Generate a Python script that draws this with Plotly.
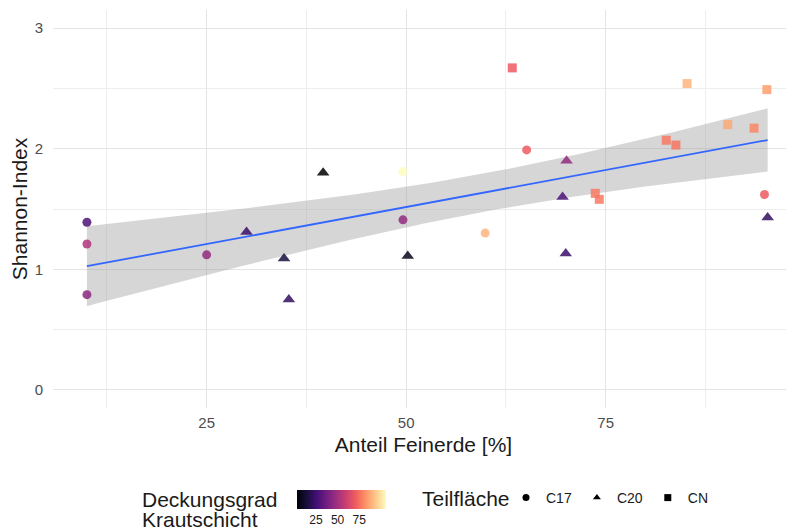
import numpy as np
import plotly.graph_objects as go

# ---- data -------------------------------------------------------------
c17_x = [10.0, 10.0, 10.0, 25.0, 49.6, 49.6, 59.9, 65.1, 94.9]
c17_y = [1.39, 1.21, 0.79, 1.12, 1.41, 1.81, 1.30, 1.99, 1.62]
c17_c = [28, 53, 44, 46, 46, 106, 90, 70, 70]

c20_x = [30.0, 34.7, 35.3, 39.6, 50.2, 69.6, 70.1, 70.0, 95.3]
c20_y = [1.31, 1.09, 0.75, 1.80, 1.11, 1.60, 1.90, 1.13, 1.43]
c20_c = [23, 15, 21, 3, 8, 28, 46, 23, 21]

cn_x = [63.3, 73.7, 74.2, 82.6, 83.8, 85.2, 90.3, 93.6, 95.2]
cn_y = [2.67, 1.63, 1.58, 2.07, 2.03, 2.54, 2.20, 2.17, 2.49]
cn_c = [70, 77, 77, 77, 76, 90, 87, 80, 85]

groups = ["C17", "C20", "CN"]
x_ticks = [25, 50, 75]
y_ticks = [0, 1, 2, 3]
color_ticks = [25, 50, 75]

# ---- linear fit with 95% CI (geom_smooth(method="lm")) ----------------
X = np.array(c17_x + c20_x + cn_x)
Y = np.array(c17_y + c20_y + cn_y)
n = len(X)
b1, b0 = np.polyfit(X, Y, 1)
resid = Y - (b0 + b1 * X)
s = np.sqrt(np.sum(resid ** 2) / (n - 2))
xm = X.mean()
sxx = np.sum((X - xm) ** 2)
t_crit = 2.0595  # t(0.975, df=25)
xs = np.linspace(X.min(), X.max(), 80)
ys = b0 + b1 * xs
se = s * np.sqrt(1.0 / n + (xs - xm) ** 2 / sxx)
lo = ys - t_crit * se
hi = ys + t_crit * se

FONT = "Liberation Sans, Arial, sans-serif"
TXT = "#1a1a1a"
fig = go.Figure()

# confidence band
fig.add_trace(go.Scatter(
    x=np.concatenate([xs, xs[::-1]]), y=np.concatenate([hi, lo[::-1]]),
    fill="toself", fillcolor="rgba(153,153,153,0.4)", line=dict(width=0),
    mode="lines", hoverinfo="skip", showlegend=False))
# fit line
fig.add_trace(go.Scatter(x=xs, y=ys, mode="lines",
                         line=dict(color="#3366FF", width=1.8),
                         showlegend=False, hoverinfo="skip"))

symbols = {"C17": "circle", "C20": "triangle-up", "CN": "square"}
sizes = {"C17": 9, "C20": 11, "CN": 9}
data = {"C17": (c17_x, c17_y, c17_c), "C20": (c20_x, c20_y, c20_c),
        "CN": (cn_x, cn_y, cn_c)}
for g in groups:
    gx, gy, gc = data[g]
    fig.add_trace(go.Scatter(
        x=gx, y=gy, mode="markers", showlegend=False,
        marker=dict(symbol=symbols[g], size=sizes[g], color=gc,
                    coloraxis="coloraxis", opacity=0.85, line=dict(width=0))))
# shape legend entries
for g in groups:
    fig.add_trace(go.Scatter(
        x=[None], y=[None], mode="markers", name=g, showlegend=True,
        marker=dict(symbol=symbols[g], size=7, color="black")))


def px(x):  # picture x -> paper x
    return (x - 53) / 741


def py(y):  # picture y -> paper y
    return -(y - 408) / 398


# the page body adds an 8px offset, so the figure is 8px smaller
fig.update_layout(
    width=786, height=522,
    margin=dict(l=45, r=0, t=2, b=122, autoexpand=False),
    paper_bgcolor="white", plot_bgcolor="white",
    font=dict(family=FONT, color=TXT),
    coloraxis=dict(
        colorscale="Magma", cmin=3, cmax=106,
        colorbar=dict(
            orientation="h", lenmode="pixels", len=89,
            thicknessmode="pixels", thickness=19,
            x=px(341.5), xanchor="center", y=py(490), yanchor="top",
            xpad=0, ypad=0,
            tickvals=color_ticks, ticks="", outlinewidth=0,
            tickfont=dict(size=12, color=TXT, family=FONT),
            title=dict(text=""))),
    legend=dict(
        orientation="h", x=px(506), xanchor="left", y=py(498), yanchor="middle",
        font=dict(size=14, color=TXT),
        itemwidth=30, tracegroupgap=0, bgcolor="rgba(0,0,0,0)"),
    annotations=[
        dict(text="Deckungsgrad", xref="paper", yref="paper",
             x=px(140), y=py(499), xanchor="left", yanchor="middle",
             showarrow=False, font=dict(size=21, color=TXT, family=FONT)),
        dict(text="Krautschicht", xref="paper", yref="paper",
             x=px(140), y=py(520), xanchor="left", yanchor="middle",
             showarrow=False, font=dict(size=21, color=TXT, family=FONT)),
        dict(text="Teilfläche", xref="paper", yref="paper",
             x=px(420), y=py(498), xanchor="left", yanchor="middle",
             showarrow=False, font=dict(size=21, color=TXT, family=FONT)),
    ],
)

fig.update_xaxes(
    range=[5.75, 98.6], tickvals=x_ticks, ticks="outside", ticklen=1,
    tickcolor="rgba(0,0,0,0)", showline=False, zeroline=False,
    showgrid=True, gridcolor="#e4e4e4", gridwidth=1, automargin=False,
    minor=dict(tickvals=[12.5, 37.5, 62.5, 87.5], showgrid=True,
               gridcolor="#eeeeee", gridwidth=1),
    tickfont=dict(size=15, color="#4d4d4d"),
    title=dict(text="Anteil Feinerde [%]", font=dict(size=21, color=TXT),
               standoff=7))
fig.update_yaxes(
    range=[-0.15, 3.15], tickvals=y_ticks, ticks="outside", ticklen=6,
    tickcolor="rgba(0,0,0,0)", showline=False, zeroline=False,
    showgrid=True, gridcolor="#e4e4e4", gridwidth=1, automargin=False,
    minor=dict(tickvals=[0.5, 1.5, 2.5], showgrid=True,
               gridcolor="#eeeeee", gridwidth=1),
    tickfont=dict(size=15, color="#4d4d4d"),
    title=dict(text="Shannon-Index", font=dict(size=21, color=TXT),
               standoff=2))

fig.write_html("out.html")
